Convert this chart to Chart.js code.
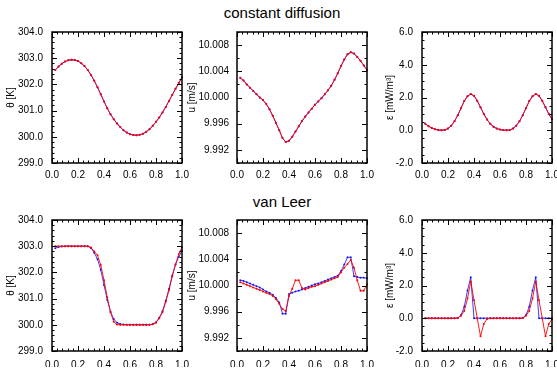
<!DOCTYPE html>
<html><head><meta charset="utf-8">
<script src="https://cdn.jsdelivr.net/npm/chart.js@4"></script>
<style>
html,body{margin:0;padding:0;background:#fff;}
body{width:557px;height:369px;position:relative;overflow:hidden;font-family:"Liberation Sans",Arial,sans-serif;}
canvas{position:absolute;left:0;top:0;}
.ttl{position:absolute;font-size:15px;line-height:15px;color:#000;white-space:nowrap;transform:translateX(-50%);}
</style></head><body>
<div class="ttl" style="left:282px;top:5px">constant diffusion</div>
<div class="ttl" style="left:282px;top:194px">van Leer</div>
<canvas id="p1" width="557" height="369"></canvas>
<canvas id="p2" width="557" height="369"></canvas>
<canvas id="p3" width="557" height="369"></canvas>
<canvas id="p4" width="557" height="369"></canvas>
<canvas id="p5" width="557" height="369"></canvas>
<canvas id="p6" width="557" height="369"></canvas>
<script>
// ---- data ----
const X = [0.025,0.05,0.075,0.1,0.125,0.15,0.175,0.2,0.225,0.25,0.275,0.3,0.325,0.35,0.375,0.4,0.425,0.45,0.475,0.5,
           0.525,0.55,0.575,0.6,0.625,0.65,0.675,0.7,0.725,0.75,0.775,0.8,0.825,0.85,0.875,0.9,0.925,0.95,0.975,1.0];

const THETA_CD = [302.55,302.68,302.79,302.87,302.92,302.94,302.93,302.89,302.81,302.70,302.55,302.36,302.14,301.89,301.62,301.35,301.09,300.86,300.67,300.51,
                  300.37,300.25,300.16,300.10,300.07,300.06,300.08,300.12,300.19,300.29,300.42,300.57,300.74,300.93,301.14,301.37,301.60,301.83,302.05,302.27];
const U_CD = [10.0030,10.0026,10.0020,10.0015,10.0010,10.0005,10.0000,9.9996,9.9990,9.9982,9.9972,9.9961,9.9950,9.9938,9.9932,9.9934,9.9940,9.9948,9.9956,9.9964,
              9.9971,9.9977,9.9983,9.9989,9.9994,9.9999,10.0005,10.0011,10.0018,10.0027,10.0037,10.0048,10.0058,10.0066,10.0069,10.0067,10.0062,10.0056,10.0049,10.0042];
const EPS_CD = [0.40,0.25,0.14,0.06,0.02,0.00,0.02,0.10,0.28,0.55,0.92,1.35,1.78,2.08,2.22,2.10,1.80,1.40,1.00,0.65,
                0.40,0.22,0.10,0.04,0.01,0.00,0.02,0.10,0.28,0.55,0.92,1.35,1.78,2.08,2.22,2.10,1.80,1.40,1.00,0.68];

const THETA_VL_RED = [303.0,303.0,303.0,303.0,303.0,303.0,303.0,303.0,303.0,303.0,303.0,302.95,302.80,302.65,302.28,301.70,301.05,300.48,300.12,300.01,
                      300.0,300.0,300.0,300.0,300.0,300.0,300.0,300.0,300.0,300.0,300.02,300.08,300.25,300.48,300.88,301.32,301.85,302.30,302.70,302.96];
const THETA_VL_BLUE = [302.92,302.97,302.99,303.0,303.0,303.0,303.0,303.0,303.0,303.0,303.0,302.93,302.75,302.50,302.10,301.52,300.95,300.50,300.22,300.08,
                       300.03,300.01,300.0,300.0,300.0,300.0,300.0,300.0,300.0,300.0,300.03,300.10,300.27,300.52,300.92,301.38,301.88,302.30,302.60,302.82];
const U_VL_RED = [10.0005,10.0003,10.0001,9.9999,9.9997,9.9995,9.9993,9.9991,9.9989,9.9987,9.9984,9.9979,9.9972,9.9964,9.9961,9.9984,9.9995,10.0008,10.0008,9.9996,
                  9.9994,9.9996,9.9998,9.9999,10.0001,10.0003,10.0005,10.0007,10.0009,10.0011,10.0013,10.0020,10.0027,10.0033,10.0039,10.0027,10.0008,9.9992,9.9992,10.0002];
const U_VL_BLUE = [10.0008,10.0007,10.0005,10.0003,10.0001,9.9999,9.9997,9.9994,9.9991,9.9989,9.9986,9.9981,9.9974,9.9957,9.9957,9.9987,9.9989,9.9991,9.9992,9.9994,
                   9.9996,9.9998,10.0000,10.0002,10.0003,10.0005,10.0007,10.0009,10.0011,10.0013,10.0015,10.0022,10.0032,10.0043,10.0043,10.0014,10.0013,10.0012,10.0012,10.0011];
const EPS_VL_RED = [0,0,0,0,0,0,0,0,0,0,0.01,0.15,0.45,1.2,2.25,1.1,0.0,-1.1,-0.35,-0.05,
                    0,0,0,0,0,0,0,0,0,0,0.01,0.15,0.45,1.2,2.25,1.1,0.0,-1.1,-0.35,-0.05];
const EPS_VL_BLUE = [0,0,0,0,0,0,0,0,0,0,0.02,0.2,0.7,1.7,2.5,0,0,0,0,0,
                     0,0,0,0,0,0,0,0,0,0,0.02,0.2,0.7,1.7,2.5,0,0,0,0,0];

// tick labels
const X_TICKS = [0,0.2,0.4,0.6,0.8,1.0];
const THETA_TICKS = [299,300,301,302,303,304];
const U_TICKS = [9.992,9.996,10.000,10.004,10.008];
const EPS_TICKS = [-2,0,2,4,6];

// ---- drawing ----
Chart.defaults.font.family = "'Liberation Sans', Arial, sans-serif";
Chart.defaults.color = '#000';

const frame = {
  id: 'frame',
  afterDatasetsDraw(chart, args, o) {
    const {ctx, chartArea: a, scales: {x: xs, y: ys}} = chart;
    ctx.save();
    ctx.strokeStyle = '#000';
    ctx.lineWidth = 1;
    ctx.beginPath();
    const vt = (v, len) => {
      const p = Math.round(xs.getPixelForValue(v)) + 0.5;
      ctx.moveTo(p, a.bottom); ctx.lineTo(p, a.bottom - len);
      ctx.moveTo(p, a.top); ctx.lineTo(p, a.top + len);
    };
    const ht = (v, len) => {
      const p = Math.round(ys.getPixelForValue(v)) + 0.5;
      ctx.moveTo(a.left, p); ctx.lineTo(a.left + len, p);
      ctx.moveTo(a.right, p); ctx.lineTo(a.right - len, p);
    };
    let n = Math.round((xs.max - xs.min) / o.xMinor);
    for (let k = 0; k <= n; k++) vt(xs.min + k * o.xMinor, 2.5);
    n = Math.round((ys.max - ys.min) / o.yMinor);
    for (let k = 0; k <= n; k++) ht(ys.min + k * o.yMinor, 2.5);
    o.xMajor.forEach(v => vt(v, 5));
    o.yMajor.forEach(v => ht(v, 5));
    ctx.stroke();
    ctx.lineWidth = 1.5;
    ctx.strokeRect(a.left, a.top, a.right - a.left, a.bottom - a.top);
    ctx.restore();
  }
};

function ds(arr, color) {
  return {
    data: X.map((x, i) => ({x: x, y: arr[i]})),
    borderColor: color, backgroundColor: color, pointBackgroundColor: color,
    borderWidth: 0.9, pointRadius: 1, pointBorderWidth: 0, tension: 0, clip: false
  };
}

function panel(id, col, row, datasets, y) {
  const L = [52, 237, 422][col], R = L + 130;
  const T = [32, 220][row], B = T + 131;
  const boxLeft = [0, 180, 378][col];
  const yw = L - boxLeft;
  const titlePad = [5, 6.5, 6][col];
  const tickPad = [9, 8, 9][col];
  new Chart(document.getElementById(id), {
    type: 'line',
    data: {datasets},
    options: {
      responsive: false, animation: false, devicePixelRatio: 1,
      layout: {padding: {left: boxLeft, top: T, right: 557 - R, bottom: 369 - B - 16}},
      plugins: {legend: {display: false}, tooltip: {enabled: false},
        frame: {xMinor: 0.04, yMinor: y.minor, xMajor: X_TICKS, yMajor: y.ticks}},
      scales: {
        x: {type: 'linear', min: 0, max: 1,
          grid: {display: false, drawTicks: false}, border: {display: false},
          ticks: {autoSkip: false, maxRotation: 0, minRotation: 0, padding: row ? 8 : 6, color: '#000',
            font: {size: 10}, callback: v => v.toFixed(1)},
          afterBuildTicks: s => { s.ticks = X_TICKS.map(v => ({value: v})); },
          afterFit: s => { s.height = 16; s.paddingLeft = 0; s.paddingRight = 0; }
        },
        y: {type: 'linear', min: y.min, max: y.max,
          grid: {display: false, drawTicks: false}, border: {display: false},
          ticks: {autoSkip: false, padding: tickPad, color: '#000', font: {size: 10},
            callback: v => v.toFixed(y.dec)},
          title: {display: true, text: y.title, color: '#000', font: {size: 10}, padding: {top: titlePad, bottom: 0}},
          afterBuildTicks: s => { s.ticks = y.ticks.map(v => ({value: v})); },
          afterFit: s => { s.width = yw; s.paddingTop = 0; s.paddingBottom = 0; }
        }
      }
    },
    plugins: [frame]
  });
}

const yTheta = {min: 299, max: 304, ticks: THETA_TICKS, minor: 0.2, dec: 1, title: 'θ [K]'};
const yU = {min: 9.990, max: 10.010, ticks: U_TICKS, minor: 0.002, dec: 3, title: 'u [m/s]'};
const yEps = {min: -2, max: 6, ticks: EPS_TICKS, minor: 0.5, dec: 1, title: 'ε [mW/m³]'};

const RED = 'rgb(255,0,0)', BLUE = 'rgba(0,0,255,0.85)';
panel('p1', 0, 0, [ds(THETA_CD, RED), ds(THETA_CD, BLUE)], yTheta);
panel('p2', 1, 0, [ds(U_CD, RED), ds(U_CD, BLUE)], yU);
panel('p3', 2, 0, [ds(EPS_CD, RED), ds(EPS_CD, BLUE)], yEps);
panel('p4', 0, 1, [ds(THETA_VL_RED, RED), ds(THETA_VL_BLUE, BLUE)], yTheta);
panel('p5', 1, 1, [ds(U_VL_RED, RED), ds(U_VL_BLUE, BLUE)], yU);
panel('p6', 2, 1, [ds(EPS_VL_RED, RED), ds(EPS_VL_BLUE, BLUE)], yEps);
</script>
</body></html>
